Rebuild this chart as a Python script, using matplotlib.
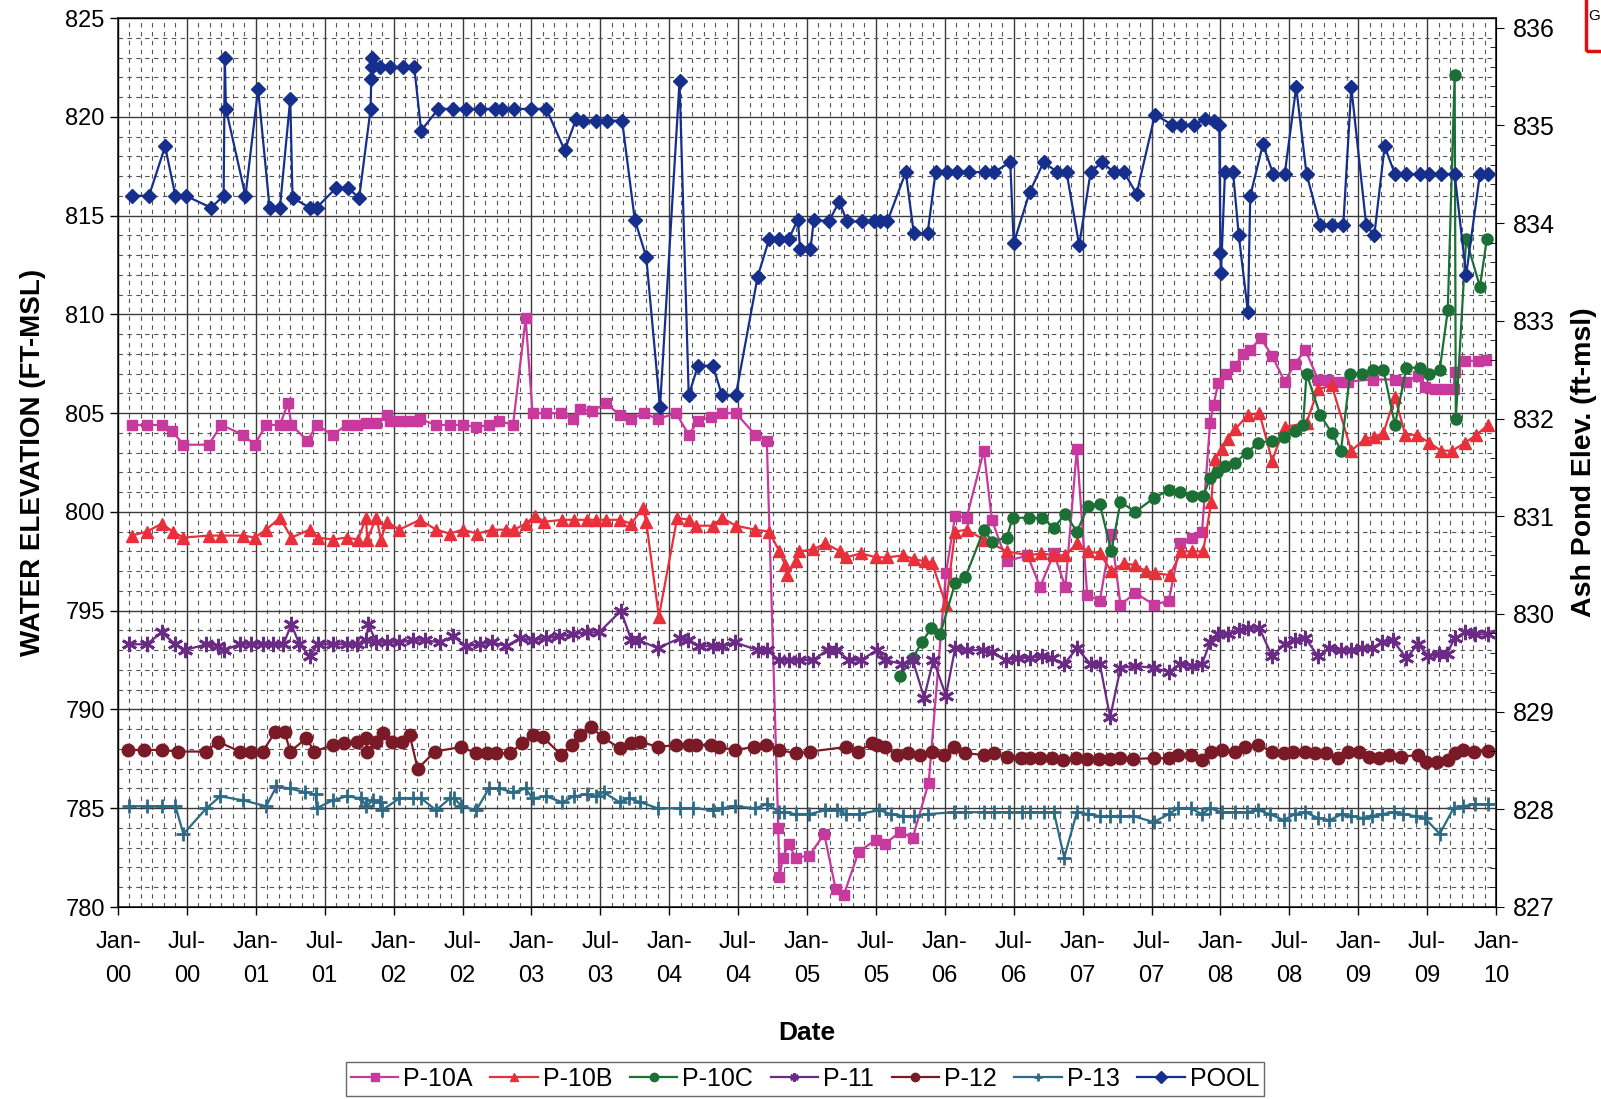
import matplotlib
matplotlib.use("Agg")
import matplotlib.pyplot as plt
from matplotlib.ticker import MultipleLocator, FixedLocator
from matplotlib.patches import Rectangle

plt.rcParams['font.family'] = ['Liberation Sans', 'DejaVu Sans']

# x values: months since Jan 2000
pool_m = [1.2, 2.7, 4.1, 5.0, 5.9, 8.1, 9.2, 9.3, 9.4, 11.1, 12.2, 13.2, 14.1, 15.0, 15.2, 16.7, 17.3, 19.0, 20.0, 21.0,
          22.0, 22.05, 22.1, 22.15, 22.8, 23.7, 24.8, 25.8, 26.4, 27.9, 29.2, 30.3, 31.5, 32.8, 33.4, 34.5, 36.0, 37.3,
          38.9, 39.9, 40.5, 41.6, 42.6, 43.9, 45.0, 46.0, 47.2, 48.9, 49.7, 50.5, 51.8, 52.6, 53.8, 55.7, 56.7, 57.6,
          58.4, 59.2, 59.4, 60.3, 60.6, 61.9, 62.8, 63.5, 64.8, 65.8, 66.4, 67.0, 68.6, 69.3, 70.5, 71.2, 72.2, 73.1,
          74.1, 75.5, 76.3, 77.7, 78.0, 79.4, 80.6, 81.8, 82.6, 83.7, 84.7, 85.7, 86.7, 87.6, 88.7, 90.3, 91.8, 92.6,
          93.7, 94.7, 95.4, 95.9, 96.0, 96.05, 96.4, 97.1, 97.6, 98.4, 98.6, 99.7, 100.6, 101.6, 102.6, 103.5, 104.7,
          105.7, 106.7, 107.4, 108.7, 109.4, 110.3, 111.2, 112.2, 113.4, 114.2, 115.2, 116.4, 117.4, 118.6, 119.3]
pool_v = [816.0, 816.0, 818.5, 816.0, 816.0, 815.4, 816.0, 823.0, 820.4, 816.0, 821.4, 815.4, 815.4, 820.9, 815.9, 815.4,
          815.4, 816.4, 816.4, 815.9, 820.4, 821.9, 822.5, 823.0, 822.5, 822.5, 822.5, 822.5, 819.3, 820.4, 820.4, 820.4,
          820.4, 820.4, 820.4, 820.4, 820.4, 820.4, 818.3, 819.9, 819.8, 819.8, 819.8, 819.8, 814.8, 812.9, 805.3, 821.8,
          805.9, 807.4, 807.4, 805.9, 805.9, 811.9, 813.8, 813.8, 813.8, 814.8, 813.3, 813.3, 814.8, 814.7, 815.7, 814.7,
          814.7, 814.7, 814.7, 814.7, 817.2, 814.1, 814.1, 817.2, 817.2, 817.2, 817.2, 817.2, 817.2, 817.7, 813.6, 816.2,
          817.7, 817.2, 817.2, 813.5, 817.2, 817.7, 817.2, 817.2, 816.1, 820.1, 819.6, 819.6, 819.6, 819.9, 819.8, 819.6,
          813.1, 812.1, 817.2, 817.2, 814.0, 810.1, 816.0, 818.6, 817.1, 817.1, 821.5, 817.1, 814.5, 814.5, 814.5, 821.5,
          814.5, 814.0, 818.5, 817.1, 817.1, 817.1, 817.1, 817.1, 817.1, 812.0, 817.1, 817.1]

p10a_m = [1.2, 2.5, 3.8, 4.7, 5.7, 7.9, 9.0, 10.9, 11.9, 12.9, 14.1, 14.8, 15.1, 16.5, 17.3, 18.7, 19.9, 20.8, 21.6, 22.5,
          23.4, 23.7, 24.2, 25.1, 26.0, 26.3, 27.7, 28.9, 30.0, 31.2, 32.3, 33.2, 34.4, 35.5, 36.1, 37.3, 38.6, 39.6, 40.2,
          41.3, 42.5, 43.7, 44.7, 45.8, 47.0, 48.6, 49.7, 50.5, 51.6, 52.6, 53.8, 55.5, 56.5, 57.5, 57.6, 57.9, 58.4, 59.0,
          60.2, 61.5, 62.5, 63.2, 64.5, 66.0, 66.8, 68.1, 69.2, 70.6, 72.1, 72.9, 73.9, 75.4, 76.1, 77.4, 79.2, 80.3, 81.5,
          82.5, 83.5, 84.4, 85.5, 86.5, 87.3, 88.6, 90.2, 91.5, 92.5, 93.5, 94.4, 95.1, 95.4, 95.8, 96.5, 97.3, 98.0, 98.6,
          99.5, 100.5, 101.6, 102.5, 103.4, 104.5, 105.4, 106.3, 107.1, 109.3, 111.2, 112.2, 113.2, 113.8, 114.7, 115.5,
          116.3, 116.4, 117.3, 118.4, 119.1]
p10a_v = [804.4, 804.4, 804.4, 804.1, 803.4, 803.4, 804.4, 803.9, 803.4, 804.4, 804.4, 805.5, 804.4, 803.6, 804.4, 803.9,
          804.4, 804.4, 804.5, 804.5, 804.9, 804.6, 804.6, 804.6, 804.6, 804.7, 804.4, 804.4, 804.4, 804.3, 804.4, 804.6,
          804.4, 809.8, 805.0, 805.0, 805.0, 804.7, 805.2, 805.1, 805.5, 804.9, 804.7, 805.0, 804.7, 805.0, 803.9, 804.6,
          804.8, 805.0, 805.0, 803.9, 803.6, 784.0, 781.5, 782.5, 783.2, 782.5, 782.6, 783.7, 780.9, 780.6, 782.8, 783.4,
          783.2, 783.8, 783.5, 786.3, 796.9, 799.8, 799.7, 803.1, 799.6, 797.5, 797.8, 796.2, 797.9, 796.2, 803.2, 795.8,
          795.5, 798.9, 795.3, 795.9, 795.3, 795.5, 798.4, 798.7, 799.0, 804.5, 805.4, 806.5, 807.0, 807.4, 808.0, 808.2,
          808.8, 807.9, 806.6, 807.5, 808.2, 806.7, 806.7, 806.6, 806.6, 806.7, 806.7, 806.6, 806.9, 806.3, 806.2, 806.2,
          806.2, 807.1, 807.65, 807.65, 807.7]

p10b_m = [1.2, 2.5, 3.8, 4.8, 5.7, 7.9, 9.0, 10.9, 11.9, 12.9, 14.1, 15.1, 16.7, 17.4, 18.7, 19.9, 20.9, 21.6, 21.7, 22.5,
          22.9, 23.4, 24.5, 26.3, 27.7, 28.9, 30.0, 31.3, 32.6, 33.8, 34.5, 35.5, 36.3, 37.1, 38.7, 39.7, 40.8, 41.6, 42.5,
          43.7, 44.7, 45.7, 46.0, 47.1, 48.7, 49.7, 50.3, 51.8, 52.6, 53.8, 55.5, 56.7, 57.6, 58.1, 58.3, 59.0, 59.3, 60.5,
          61.6, 62.9, 63.4, 64.7, 66.0, 67.0, 68.4, 69.3, 70.3, 70.9, 72.1, 72.9, 73.9, 75.4, 77.4, 79.3, 80.4, 81.5, 82.5,
          83.5, 84.5, 85.5, 86.5, 87.6, 88.6, 89.5, 90.3, 91.6, 92.6, 93.5, 94.5, 95.2, 95.5, 96.1, 96.7, 97.3, 98.4, 99.4,
          100.5, 101.6, 103.5, 104.5, 105.7, 107.4, 108.6, 109.4, 110.2, 111.2, 112.1, 113.1, 114.2, 115.2, 116.2, 117.3,
          118.3, 119.3]
p10b_v = [798.8, 799.0, 799.4, 799.0, 798.7, 798.8, 798.8, 798.8, 798.7, 799.1, 799.7, 798.7, 799.1, 798.7, 798.6, 798.7,
          798.6, 799.7, 798.6, 799.7, 798.6, 799.5, 799.1, 799.6, 799.1, 798.9, 799.1, 798.9, 799.1, 799.1, 799.1, 799.4,
          799.8, 799.5, 799.6, 799.6, 799.6, 799.6, 799.6, 799.6, 799.4, 800.2, 799.5, 794.7, 799.7, 799.6, 799.3, 799.3,
          799.7, 799.3, 799.1, 799.0, 798.0, 797.3, 796.8, 797.5, 798.0, 798.1, 798.4, 798.0, 797.7, 797.9, 797.7, 797.7,
          797.8, 797.6, 797.5, 797.4, 795.3, 799.0, 799.1, 798.6, 798.0, 797.8, 797.9, 797.8, 797.8, 798.4, 798.0, 797.9,
          797.0, 797.4, 797.3, 797.0, 796.9, 796.8, 798.0, 798.0, 798.0, 800.5, 802.7, 803.2, 803.7, 804.2, 804.9, 805.0,
          802.6, 804.3, 804.5, 806.2, 806.4, 803.1, 803.7, 803.8, 804.0, 805.8, 803.9, 803.9, 803.5, 803.1, 803.1, 803.5,
          803.9, 804.4]

p10c_m = [68.1, 69.2, 70.0, 70.8, 71.6, 72.9, 73.8, 75.4, 76.1, 77.4, 77.9, 79.3, 80.5, 81.5, 82.5, 83.5, 84.5, 85.5, 86.5,
          87.3, 88.6, 90.2, 91.5, 92.5, 93.5, 94.5, 95.1, 95.7, 96.4, 97.3, 98.3, 99.3, 100.5, 101.5, 102.5, 103.2, 103.5,
          104.7, 105.7, 106.5, 107.3, 108.3, 109.3, 110.2, 111.2, 112.2, 113.4, 114.2, 115.1, 115.8, 116.4, 116.5, 117.4,
          118.6, 119.2]
p10c_v = [791.7, 792.6, 793.4, 794.1, 793.8, 796.4, 796.7, 799.1, 798.5, 798.7, 799.7, 799.7, 799.7, 799.2, 799.9, 799.0,
          800.3, 800.4, 798.0, 800.5, 800.0, 800.7, 801.1, 801.0, 800.8, 800.8, 801.7, 802.0, 802.3, 802.5, 803.0, 803.5,
          803.6, 803.8, 804.1, 804.4, 807.0, 804.9, 804.0, 803.1, 807.0, 807.0, 807.2, 807.2, 804.4, 807.3, 807.3, 807.0,
          807.2, 810.2, 822.1, 804.7, 813.8, 811.4, 813.8]

p11_m = [1.0, 2.5, 3.8, 5.0, 5.8, 7.7, 8.7, 9.2, 10.6, 11.6, 12.6, 13.5, 14.4, 15.1, 15.8, 16.7, 17.4, 18.7, 19.9, 20.8,
         21.6, 21.8, 22.5, 23.4, 24.5, 25.7, 26.7, 28.0, 29.2, 30.3, 31.5, 32.6, 33.8, 35.0, 36.1, 37.3, 38.4, 39.6, 40.8,
         41.9, 43.8, 44.7, 45.4, 47.0, 48.9, 49.6, 50.6, 51.8, 52.6, 53.7, 55.7, 56.5, 57.6, 58.4, 59.3, 60.5, 61.8, 62.5,
         63.7, 64.7, 66.1, 66.8, 68.3, 69.2, 70.2, 71.0, 72.1, 72.9, 73.9, 75.3, 76.1, 77.3, 78.4, 79.4, 80.5, 81.3, 82.4,
         83.5, 84.7, 85.5, 86.4, 87.3, 88.6, 90.2, 91.5, 92.5, 93.5, 94.4, 95.1, 95.8, 96.7, 97.6, 98.4, 99.4, 100.5,
         101.6, 102.5, 103.4, 104.5, 105.5, 106.5, 107.4, 108.3, 109.2, 110.1, 111.0, 112.2, 113.2, 114.1, 115.0, 115.7,
         116.4, 117.3, 118.2, 119.3]
p11_v = [793.3, 793.3, 793.9, 793.3, 793.0, 793.3, 793.2, 793.0, 793.3, 793.3, 793.3, 793.3, 793.3, 794.3, 793.3, 792.7,
         793.3, 793.3, 793.3, 793.3, 793.5, 794.3, 793.4, 793.4, 793.4, 793.5, 793.5, 793.4, 793.7, 793.2, 793.3, 793.4,
         793.2, 793.6, 793.5, 793.6, 793.7, 793.8, 793.9, 793.9, 795.0, 793.5, 793.5, 793.1, 793.6, 793.5, 793.2, 793.2,
         793.2, 793.4, 793.0, 793.0, 792.5, 792.5, 792.5, 792.5, 793.0, 793.0, 792.5, 792.5, 793.0, 792.5, 792.3, 792.5,
         790.6, 792.5, 790.7, 793.1, 793.0, 793.0, 792.9, 792.5, 792.6, 792.6, 792.7, 792.6, 792.3, 793.1, 792.3, 792.3,
         789.6, 792.1, 792.2, 792.1, 791.9, 792.3, 792.2, 792.3, 793.4, 793.8, 793.8, 794.0, 794.1, 794.1, 792.7, 793.3,
         793.5, 793.6, 792.7, 793.1, 793.0, 793.0, 793.1, 793.1, 793.4, 793.5, 792.6, 793.3, 792.7, 792.8, 792.8, 793.6,
         793.9, 793.8, 793.8]

p12_m = [0.9, 2.3, 3.8, 5.2, 7.7, 8.7, 10.6, 11.6, 12.6, 13.7, 14.5, 15.0, 16.4, 17.1, 18.7, 19.7, 20.8, 21.6, 21.7, 22.5,
         23.1, 23.9, 24.7, 25.4, 26.1, 27.6, 29.9, 31.2, 32.1, 32.9, 34.1, 35.2, 36.1, 37.0, 38.6, 39.5, 40.2, 41.2, 42.2,
         43.7, 44.7, 45.5, 47.0, 48.6, 49.7, 50.3, 51.6, 52.3, 53.7, 55.4, 56.4, 57.6, 59.0, 60.3, 63.4, 64.4, 65.7, 66.1,
         66.8, 67.8, 68.8, 69.8, 70.9, 71.9, 72.8, 73.8, 75.4, 76.3, 77.4, 78.6, 79.4, 80.3, 81.3, 82.3, 83.4, 84.4, 85.4,
         86.4, 87.3, 88.4, 90.2, 91.5, 92.3, 93.4, 94.4, 95.2, 96.1, 97.3, 98.1, 99.3, 100.5, 101.5, 102.3, 103.4, 104.2,
         105.2, 106.2, 107.1, 108.1, 108.9, 109.8, 110.7, 111.7, 113.2, 113.9, 114.9, 115.8, 116.4, 117.1, 118.1, 119.3]
p12_v = [787.95, 787.95, 787.95, 787.87, 787.87, 788.37, 787.87, 787.87, 787.87, 788.87, 788.87, 787.87, 788.54, 787.87,
         788.2, 788.28, 788.37, 788.54, 787.87, 788.37, 788.8, 788.37, 788.37, 788.7, 787.0, 787.87, 788.1, 787.78, 787.78,
         787.78, 787.78, 788.28, 788.7, 788.6, 787.7, 788.2, 788.7, 789.1, 788.6, 788.03, 788.28, 788.37, 788.1, 788.2,
         788.2, 788.2, 788.2, 788.1, 787.95, 788.1, 788.2, 787.95, 787.78, 787.87, 788.1, 787.87, 788.28, 788.2, 788.1,
         787.7, 787.78, 787.7, 787.87, 787.7, 788.1, 787.78, 787.7, 787.78, 787.6, 787.53, 787.53, 787.53, 787.53, 787.44,
         787.53, 787.5, 787.5, 787.5, 787.53, 787.5, 787.53, 787.53, 787.7, 787.7, 787.44, 787.87, 787.95, 787.87, 788.1,
         788.2, 787.87, 787.78, 787.87, 787.87, 787.78, 787.78, 787.53, 787.87, 787.87, 787.6, 787.53, 787.7, 787.6,
         787.7, 787.36, 787.36, 787.44, 787.78, 787.95, 787.87, 787.9]

p13_m = [1.0, 2.5, 3.8, 5.0, 5.7, 7.7, 8.9, 10.9, 12.9, 13.8, 15.0, 16.3, 17.2, 17.3, 18.7, 19.9, 21.2, 21.6, 22.2, 22.8,
         23.0, 24.5, 25.7, 26.4, 27.7, 28.9, 29.3, 29.9, 31.2, 32.3, 33.2, 34.4, 35.5, 36.1, 37.3, 38.7, 39.7, 40.8, 41.6,
         42.3, 43.7, 44.5, 45.5, 47.0, 48.9, 50.1, 51.8, 52.6, 53.7, 55.5, 56.5, 57.6, 58.0, 59.0, 60.2, 61.6, 62.6, 63.4,
         64.5, 66.3, 67.3, 68.4, 69.3, 70.5, 72.8, 73.8, 75.4, 76.3, 77.6, 78.7, 79.4, 80.6, 81.5, 82.4, 83.5, 84.5, 85.5,
         86.4, 87.3, 88.4, 90.2, 91.5, 92.3, 93.4, 94.4, 95.1, 96.1, 97.3, 98.3, 99.3, 100.3, 101.5, 102.5, 103.4, 104.5,
         105.5, 106.6, 107.4, 108.4, 109.2, 110.1, 111.1, 111.9, 113.0, 113.8, 115.1, 116.3, 117.1, 118.2, 119.3]
p13_v = [785.1, 785.1, 785.1, 785.1, 783.7, 785.0, 785.6, 785.4, 785.1, 786.1, 786.0, 785.8, 785.7, 785.0, 785.4, 785.6,
         785.5, 785.1, 785.4, 785.3, 784.9, 785.5, 785.5, 785.5, 784.9, 785.5, 785.5, 785.1, 784.9, 786.0, 786.0, 785.8,
         786.0, 785.5, 785.6, 785.3, 785.6, 785.7, 785.6, 785.8, 785.3, 785.5, 785.3, 785.0, 785.0, 785.0, 784.9, 785.0,
         785.1, 785.0, 785.2, 784.8, 784.8, 784.7, 784.7, 784.9, 784.9, 784.7, 784.7, 784.9, 784.7, 784.6, 784.6, 784.7,
         784.8, 784.8, 784.8, 784.8, 784.8, 784.8, 784.8, 784.8, 784.8, 782.5, 784.8, 784.7, 784.6, 784.6, 784.6, 784.6,
         784.3, 784.7, 785.0, 785.0, 784.7, 785.0, 784.8, 784.8, 784.8, 784.9, 784.7, 784.4, 784.7, 784.8, 784.5, 784.4,
         784.7, 784.6, 784.5, 784.6, 784.7, 784.8, 784.7, 784.6, 784.5, 783.7, 785.0, 785.1, 785.2, 785.2]

series = [
    ("P-10A", p10a_m, p10a_v, "#C8399E", "s", 7.5, 1.0),
    ("P-10B", p10b_m, p10b_v, "#E8303C", "^", 9, 1.0),
    ("P-10C", p10c_m, p10c_v, "#1B7035", "o", 8, 1.0),
    ("P-11", p11_m, p11_v, "#6B2A86", (6, 2, 0), 11, 2.0),
    ("P-12", p12_m, p12_v, "#7A1A26", "o", 9, 1.0),
    ("P-13", p13_m, p13_v, "#2C6A86", "+", 10, 2.0),
    ("POOL", pool_m, pool_v, "#172F8C", "D", 7, 1.0),
]

x_labels = ["Jan-\n00", "Jul-\n00", "Jan-\n01", "Jul-\n01", "Jan-\n02", "Jul-\n02", "Jan-\n03", "Jul-\n03",
            "Jan-\n04", "Jul-\n04", "Jan-\n05", "Jul-\n05", "Jan-\n06", "Jul-\n06", "Jan-\n07", "Jul-\n07",
            "Jan-\n08", "Jul-\n08", "Jan-\n09", "Jul-\n09", "Jan-\n10"]

fig = plt.figure(figsize=(16.01, 10.99), dpi=100)
ax = fig.add_axes([118 / 1601, 1 - 907 / 1099, (1496 - 118) / 1601, (907 - 18) / 1099])

for name, xm, yv, col, mk, ms, mew in series:
    ax.plot(xm, yv, color=col, lw=1.6, marker=mk, markersize=ms, markeredgewidth=mew,
            markerfacecolor=col, markeredgecolor=col, label=name, zorder=3)

ax.set_xlim(0, 120)
ax.set_ylim(780, 825)
ax.xaxis.set_major_locator(FixedLocator(list(range(0, 121, 6))))
ax.set_xticklabels(x_labels, linespacing=1.75)
ax.xaxis.set_minor_locator(MultipleLocator(1))
ax.yaxis.set_major_locator(MultipleLocator(5))
ax.yaxis.set_minor_locator(MultipleLocator(1))
ax.grid(which='major', color='#3a3a3a', lw=1.0, ls='-')
ax.grid(which='minor', color='#555555', lw=0.8, ls=(0, (4, 4)))
ax.set_axisbelow(True)
ax.tick_params(axis='both', which='major', labelsize=17, length=6, width=1, direction='out')
ax.tick_params(axis='both', which='minor', length=0)
ax.tick_params(axis='x', pad=11)
for s in ax.spines.values():
    s.set_color('#222222')
    s.set_linewidth(1.2)

ax.set_ylabel("WATER ELEVATION (FT-MSL)", fontsize=20, fontweight='bold', labelpad=14)
ax.set_xlabel("Date", fontsize=19, fontweight='bold', labelpad=24)

ax2 = ax.twinx()
ax2.set_ylim(827, 836.1)
ax2.yaxis.set_major_locator(MultipleLocator(1))
ax2.yaxis.set_minor_locator(MultipleLocator(0.2))
ax2.tick_params(axis='y', which='major', labelsize=18, length=6, direction='out', pad=6)
ax2.tick_params(axis='y', which='minor', length=4, direction='in')
ax2.set_ylabel("Ash Pond Elev. (ft-msl)", fontsize=20.5, fontweight='bold', labelpad=12)

leg = fig.legend(*ax.get_legend_handles_labels(), loc='center', bbox_to_anchor=(805 / 1601, 1 - 1079 / 1099),
                 ncol=7, fontsize=18, frameon=True, fancybox=False, edgecolor='#444444',
                 handlelength=1.9, handletextpad=0.2, columnspacing=0.7, borderpad=0.2)
leg.get_frame().set_linewidth(1.0)
for h in leg.legend_handles:
    h.set_markersize(6)

fig.patches.append(Rectangle((1586 / 1601, 1 - 51 / 1099), 0.05, 0.06, transform=fig.transFigure,
                             fill=False, edgecolor='#e01010', lw=2.5))
fig.text(1588 / 1601, 1 - 16 / 1099, "G", fontsize=11, va='center', ha='left')

fig.savefig("out.png", dpi=100)
